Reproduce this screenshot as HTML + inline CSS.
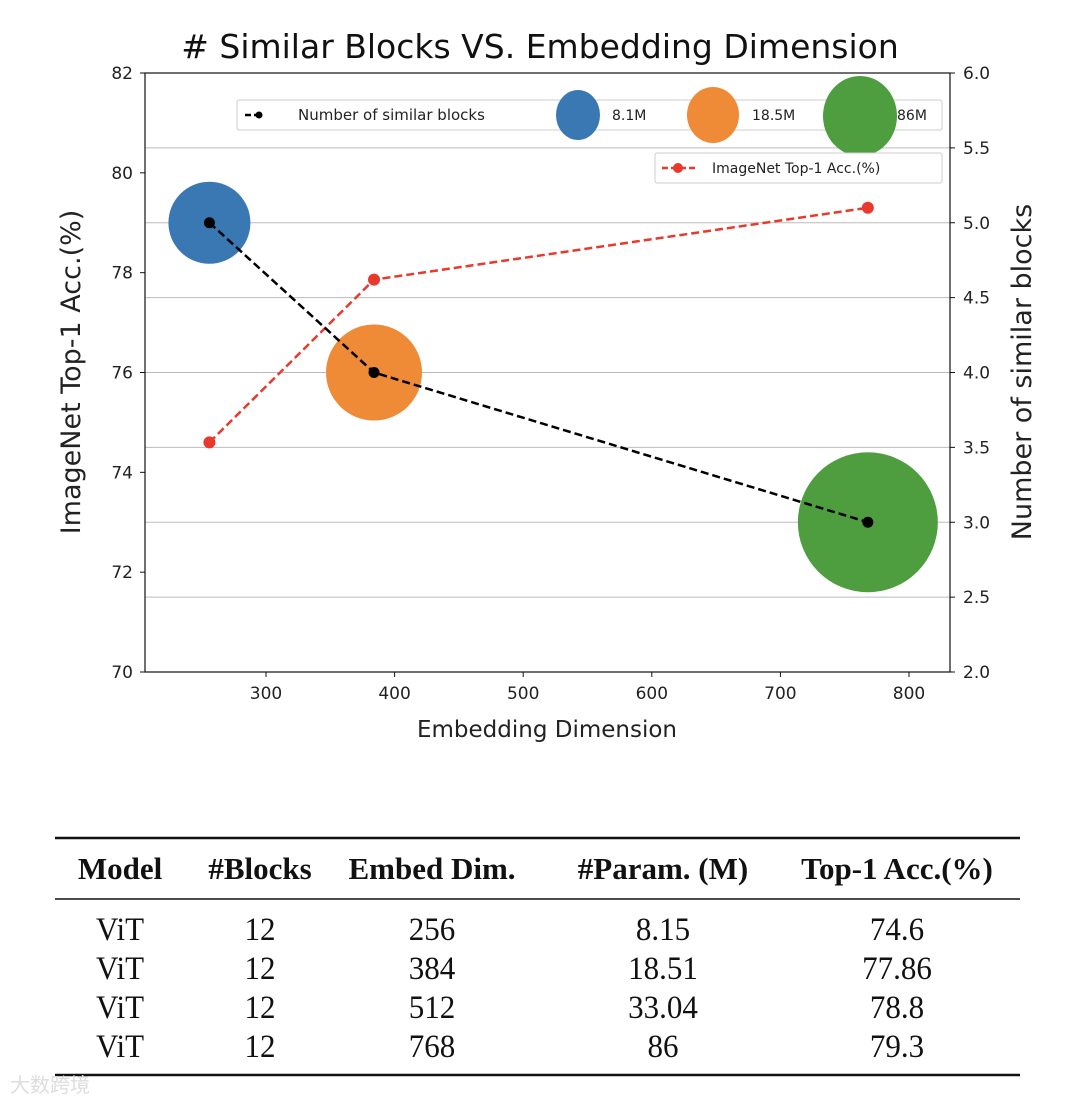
<!DOCTYPE html>
<html><head><meta charset="utf-8"><style>
html,body{margin:0;padding:0;background:#fff;}
svg{display:block;font-family:"DejaVu Sans","Liberation Sans",sans-serif;}
</style></head><body>
<svg id="chart" width="1076" height="1104" viewBox="0 0 1076 1104">
<text x="540" y="58" font-size="33" text-anchor="middle" fill="#111"># Similar Blocks VS. Embedding Dimension</text>
<g id="grid"></g>
<g id="axes"></g>
<g id="marks"></g>
<g id="legend">
  <rect x="237" y="100" width="705" height="30" fill="#fff" stroke="#ccc" rx="2"/>
  <line x1="245" y1="115" x2="262" y2="115" stroke="#000" stroke-width="2.5" stroke-dasharray="6,3"/>
  <circle cx="259" cy="115" r="3.5" fill="#000"/>
  <text x="298" y="120" font-size="15" fill="#222">Number of similar blocks</text>
  <ellipse cx="578" cy="115" rx="22" ry="25" fill="#3a78b3"/>
  <text x="612" y="120" font-size="14" fill="#222">8.1M</text>
  <ellipse cx="713" cy="115" rx="26" ry="28" fill="#ef8a36"/>
  <text x="752" y="120" font-size="14" fill="#222">18.5M</text>
  <ellipse cx="860" cy="116" rx="37" ry="40" fill="#4e9e3f"/>
  <text x="897" y="120" font-size="14" fill="#222">86M</text>
  <rect x="655" y="153" width="287" height="30" fill="#fff" stroke="#ccc" rx="2"/>
  <line x1="662" y1="168" x2="695" y2="168" stroke="#e8392c" stroke-width="2.5" stroke-dasharray="6,3"/>
  <circle cx="678" cy="168" r="5" fill="#e8392c"/>
  <text x="712" y="173" font-size="14" fill="#222">ImageNet Top-1 Acc.(%)</text>
</g>
<g id="table" font-family="'Liberation Serif',serif" fill="#111"></g>
<text x="10" y="1092" font-size="20" fill="#ddd" font-family="'Liberation Sans','Noto Sans CJK SC',sans-serif">大数跨境</text>
</svg>
<script>
const xTicks=[300,400,500,600,700,800];
const yLeftTicks=[70,72,74,76,78,80,82];
const yRightTicks=[2.0,2.5,3.0,3.5,4.0,4.5,5.0,5.5,6.0];
const dims=[256,384,768];
const blocks=[5,4,3];
const params=[8.1,18.5,86];
const bubbleR=[41,48,70];
const bubbleColors=['#3a78b3','#ef8a36','#4e9e3f'];
const accDims=[256,384,768];
const accVals=[74.6,77.86,79.3];
const tableHeader=['Model','#Blocks','Embed Dim.','#Param. (M)','Top-1 Acc.(%)'];
const tableRows=[['ViT','12','256','8.15','74.6'],['ViT','12','384','18.51','77.86'],['ViT','12','512','33.04','78.8'],['ViT','12','768','86','79.3']];

const NS='http://www.w3.org/2000/svg';
const L=145,R=950,T=73,B=672;
const X=v=>266+(v-300)*(909-266)/500;
const YL=v=>B-(v-70)*(B-T)/12;
const YR=v=>B-(v-2)*(B-T)/4;
function mk(tag,attrs,parent,txt){const e=document.createElementNS(NS,tag);for(const k in attrs)e.setAttribute(k,attrs[k]);if(txt!==undefined)e.textContent=txt;parent.appendChild(e);return e;}
const grid=document.getElementById('grid'),axes=document.getElementById('axes'),marks=document.getElementById('marks'),tbl=document.getElementById('table');
yRightTicks.forEach(v=>{if(v>2&&v<6){const g=mk('line',{x1:L,x2:R,y1:YR(v),y2:YR(v),stroke:'#bbb','stroke-width':1},grid);

}});
const fr=mk('rect',{x:L,y:T,width:R-L,height:B-T,fill:'none',stroke:'#111','stroke-width':1.2},axes);


xTicks.forEach(v=>{mk('line',{x1:X(v),x2:X(v),y1:B,y2:B+5,stroke:'#111'},axes);
const t=mk('text',{x:X(v),y:B+27,'font-size':17,'text-anchor':'middle',fill:'#222'},axes,String(v));

});
yLeftTicks.forEach(v=>{mk('line',{x1:L-5,x2:L,y1:YL(v),y2:YL(v),stroke:'#111'},axes);
const t=mk('text',{x:L-12,y:YL(v)+6,'font-size':17,'text-anchor':'end',fill:'#222'},axes,String(v));

});
yRightTicks.forEach(v=>{mk('line',{x1:R,x2:R+5,y1:YR(v),y2:YR(v),stroke:'#111'},axes);
const t=mk('text',{x:R+13,y:YR(v)+6,'font-size':17,fill:'#222'},axes,v.toFixed(1));

});
let t=mk('text',{x:547,y:737,'font-size':23,'text-anchor':'middle',fill:'#222'},axes,'Embedding Dimension');


t=mk('text',{x:0,y:0,'font-size':27,'text-anchor':'middle',fill:'#222',transform:'translate(80,372) rotate(-90)'},axes,'ImageNet Top-1 Acc.(%)');


t=mk('text',{x:0,y:0,'font-size':27,'text-anchor':'middle',fill:'#222',transform:'translate(1031,372) rotate(-90)'},axes,'Number of similar blocks');


dims.forEach((d,i)=>{const c=mk('circle',{cx:X(d),cy:YR(blocks[i]),r:bubbleR[i],fill:bubbleColors[i]},marks);

});
const rp=mk('polyline',{points:accDims.map((d,i)=>X(d)+','+YL(accVals[i])).join(' '),fill:'none',stroke:'#e8392c','stroke-width':2.5,'stroke-dasharray':'8,4'},marks);


accDims.forEach((d,i)=>{const c=mk('circle',{cx:X(d),cy:YL(accVals[i]),r:6,fill:'#e8392c'},marks);

});
const bp=mk('polyline',{points:dims.map((d,i)=>X(d)+','+YR(blocks[i])).join(' '),fill:'none',stroke:'#000','stroke-width':2.5,'stroke-dasharray':'8,4'},marks);


dims.forEach((d,i)=>{const c=mk('circle',{cx:X(d),cy:YR(blocks[i]),r:5.5,fill:'#000'},marks);

});
// table
const colX=[120,260,432,663,897];
[[838,2.5],[899,1.5],[1075,2.5]].forEach(([y,w])=>{const l=mk('line',{x1:55,x2:1020,y1:y,y2:y,stroke:'#111','stroke-width':w},tbl);

});
tableHeader.forEach((h,i)=>{const e=mk('text',{x:colX[i],y:879,'font-size':31,'font-weight':'bold','text-anchor':'middle'},tbl,h);

});
tableRows.forEach((r,j)=>r.forEach((c,i)=>{const e=mk('text',{x:colX[i],y:940+j*39,'font-size':33,'text-anchor':'middle',transform:`translate(${colX[i]*0.06},0) scale(0.94,1)`},tbl,c);

}));
</script>
</body></html>
